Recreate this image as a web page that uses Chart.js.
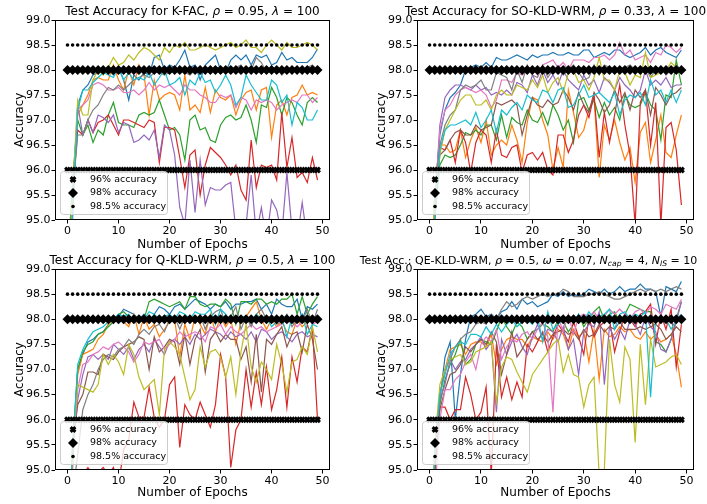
<!DOCTYPE html>
<html>
<head>
<meta charset="utf-8">
<script src="https://cdn.jsdelivr.net/npm/chart.js@4"></script>
<style>
html, body { margin: 0; padding: 0; background: #fff; }
#fig { position: relative; width: 707px; height: 504px; overflow: hidden; }
canvas { position: absolute; }
</style>
</head>
<body>
<div id="fig">
<canvas id="p1" width="354" height="252" style="left:0;top:0"></canvas>
<canvas id="p2" width="353" height="252" style="left:354px;top:0"></canvas>
<canvas id="p3" width="354" height="252" style="left:0;top:252px"></canvas>
<canvas id="p4" width="353" height="252" style="left:354px;top:252px"></canvas>
</div>
<script>
// epochs and tick labels
const epochs = [0,1,2,3,4,5,6,7,8,9,10,11,12,13,14,15,16,17,18,19,20,21,22,23,24,25,26,27,28,29,30,31,32,33,34,35,36,37,38,39,40,41,42,43,44,45,46,47,48,49];
const xTicks = [0, 10, 20, 30, 40, 50];
const yTicks = [95.0, 95.5, 96.0, 96.5, 97.0, 97.5, 98.0, 98.5, 99.0];

// reference levels (legend entries)
const refLevels = [96, 98, 98.5];
const refNames = ['96% accuracy', '98% accuracy', '98.5% accuracy'];

// K-FAC, rho=0.95, lambda=100
const kfacBlue = [93.0,95.5,97.3,97.6,97.7,97.9,97.95,97.95,98.0,97.9,
  98.05,97.8,97.4,97.9,97.8,97.95,97.9,98.25,98.3,98.0,
  98.1,98.05,98.2,98.4,98.05,98.1,97.8,98.1,98.2,98.3,
  98.0,97.95,98.2,98.3,98.2,98.3,98.1,98.3,98.25,98.3,
  98.1,98.15,98.35,98.2,98.25,98.15,98.15,98.15,98.25,98.42];
const kfacOrange = [94.0,95.5,97.1,97.3,97.5,97.8,97.85,97.8,97.8,98.1,
  97.8,97.6,98.0,97.7,98.1,97.9,97.1,97.8,97.4,97.5,
  97.55,97.5,97.2,97.9,97.2,97.3,97.15,97.65,97.15,97.6,
  97.45,97.4,97.5,97.1,97.4,97.55,97.6,97.2,97.6,97.65,
  96.65,97.3,97.4,97.1,97.45,97.5,97.7,97.5,97.55,97.5];
const kfacGreen = [94.0,95.8,97.0,96.7,96.9,96.55,96.8,96.7,97.1,97.35,
  96.95,96.9,96.9,96.85,97.1,97.15,97.1,97.15,97.4,97.1,
  96.8,96.85,96.7,96.2,97.0,97.1,96.8,96.85,96.6,96.55,
  96.9,97.05,97.1,97.0,97.05,97.3,97.0,96.55,97.3,97.25,
  97.65,97.45,97.1,97.45,97.35,97.1,96.9,97.35,97.45,97.35];
const kfacRed = [93.0,95.5,96.8,96.7,97.0,96.75,96.95,97.0,97.1,96.9,
  96.7,97.0,97.0,96.95,96.9,96.85,97.0,96.95,96.15,96.85,
  96.85,96.8,96.25,95.65,96.3,96.4,95.5,96.1,96.45,96.35,
  96.25,96.1,95.9,96.1,95.6,95.4,96.6,95.65,96.1,96.05,
  96.1,95.8,97.15,96.05,96.65,95.85,95.95,95.75,96.25,95.8];
const kfacPurple = [93.0,95.0,97.3,96.7,97.0,96.75,97.1,97.05,96.95,97.1,
  96.75,96.95,96.9,96.55,96.6,96.7,96.6,96.8,96.25,96.9,
  96.8,96.3,95.25,94.9,96.2,95.15,96.2,95.3,95.65,95.6,
  95.6,95.7,95.75,94.8,94.5,94.9,95.9,94.7,95.25,94.6,
  95.4,95.2,94.7,95.95,94.8,94.6,95.35,94.6,94.3,94.5];
const kfacPink = [93.5,95.3,97.2,97.3,97.4,97.7,97.75,97.7,97.6,97.6,
  97.65,97.55,97.55,97.6,97.5,97.6,97.75,97.6,97.7,97.65,
  97.7,97.6,97.5,97.7,97.6,97.6,97.5,97.45,97.35,97.35,
  97.5,97.45,97.5,97.25,97.45,97.4,97.2,97.4,97.35,97.4,
  97.35,97.2,97.3,97.35,97.4,97.35,97.5,97.5,97.35,97.45];
const kfacGray = [93.0,95.5,96.7,96.7,97.0,97.2,97.3,97.5,97.65,97.6,
  97.7,97.6,97.7,97.8,97.85,97.9,97.85,97.95,97.95,97.9,
  97.95,98.0,98.0,97.95,97.9,98.0,97.95,98.05,98.0,98.0,
  97.95,98.05,98.0,98.05,98.1,97.95,98.0,98.25,98.15,97.95,
  98.0,98.05,97.9,98.0,98.05,98.05,98.0,98.05,98.1,98.0];
const kfacOlive = [93.5,95.6,97.4,97.1,97.1,97.8,98.0,97.9,98.05,98.25,
  98.1,98.15,98.3,98.2,98.35,98.45,98.4,98.3,98.2,98.45,
  98.35,98.5,98.45,98.55,98.4,98.4,98.45,98.5,98.45,98.4,
  98.45,98.5,98.55,98.45,98.5,98.6,98.45,98.45,98.35,98.5,
  98.6,98.5,98.4,98.55,98.45,98.45,98.5,98.55,98.5,98.4];
const kfacCyan = [93.0,95.2,97.2,97.6,97.6,97.75,97.85,97.95,97.9,97.85,
  98.05,97.8,97.95,97.8,97.85,97.8,97.95,97.7,97.85,98.0,
  97.7,97.75,97.85,97.5,97.8,97.7,97.95,97.75,97.8,97.55,
  97.7,97.9,97.7,97.3,97.45,97.9,97.7,97.55,97.4,97.4,
  97.8,97.7,97.35,97.5,96.9,97.35,97.25,97.0,97.0,97.2];

// SO-KLD-WRM, rho=0.33, lambda=100
const soBlue = [93.0,95.5,96.7,97.2,97.45,97.55,97.7,98.0,98.05,98.1,
  98.05,98.15,98.05,98.25,98.2,98.2,98.25,98.3,98.25,98.2,
  98.3,98.25,98.3,98.3,98.35,98.3,98.3,98.35,98.3,98.3,
  98.4,98.4,98.25,98.3,98.35,98.3,98.4,98.4,98.3,98.25,
  98.3,98.35,98.45,98.3,98.4,98.45,98.35,98.3,98.25,98.4];
const soOrange = [93.0,95.5,96.5,96.5,96.35,96.4,96.8,96.25,96.6,96.85,
  96.55,97.0,96.3,96.5,96.6,96.5,96.9,96.6,96.15,96.95,
  97.45,97.4,97.0,96.7,96.0,96.45,96.05,97.6,97.15,96.65,
  96.8,97.2,97.45,95.85,96.9,96.6,97.0,96.55,96.2,96.45,
  95.75,96.75,96.95,96.15,96.6,97.1,96.35,96.25,96.7,97.1];
const soGreen = [93.0,95.0,96.1,96.3,96.25,96.3,96.5,96.75,96.7,96.8,
  96.7,96.9,96.9,96.6,97.1,96.65,97.05,96.95,96.9,97.2,
  97.0,96.95,97.15,96.9,97.3,97.1,96.8,97.0,96.55,97.4,
  97.45,97.2,97.4,97.05,97.35,97.1,97.25,97.0,97.5,97.3,
  97.25,97.3,97.55,97.3,97.2,96.6,97.5,97.45,98.2,97.7];
const soRed = [93.0,95.0,96.45,96.4,96.6,96.15,96.8,96.55,95.95,96.55,
  96.8,96.7,96.15,96.8,96.3,96.25,96.45,96.5,95.95,96.3,
  96.35,96.2,96.35,96.0,95.9,96.7,96.7,96.35,96.6,97.1,
  97.3,97.05,97.5,96.25,97.15,96.55,97.1,97.7,96.9,96.3,
  94.9,97.35,97.6,96.5,97.35,94.9,96.85,96.95,96.4,95.3];
const soPurple = [93.0,95.3,96.9,97.45,97.6,97.7,97.7,97.65,97.6,97.7,
  97.6,97.65,97.5,97.55,97.5,97.6,97.5,97.75,97.7,97.55,
  97.9,97.7,98.0,97.75,97.9,97.7,98.0,97.8,97.7,97.6,
  97.9,97.7,97.8,97.55,97.85,97.75,97.6,97.85,97.7,97.6,
  97.45,97.6,98.0,97.7,97.8,97.7,97.85,97.65,97.7,97.7];
const soBrown = [93.0,95.2,96.3,96.4,96.6,96.75,96.8,96.7,96.7,96.9,
  96.8,96.85,96.9,97.35,97.3,97.35,97.4,97.3,96.7,97.1,
  97.45,97.3,97.25,97.4,97.3,97.35,97.6,97.45,97.2,97.55,
  97.3,97.15,97.55,97.4,97.15,97.3,97.6,97.35,97.55,97.2,
  97.6,97.45,97.6,97.1,97.65,97.5,97.3,97.5,97.55,97.65];
const soPink = [93.0,95.3,96.8,97.2,97.3,97.5,97.6,97.65,97.6,97.55,
  97.6,97.5,97.25,97.4,97.8,97.8,97.75,97.95,97.9,98.0,
  98.05,97.9,98.1,98.15,98.2,98.05,98.15,98.0,98.2,98.2,
  98.2,98.15,98.25,98.25,98.3,98.2,98.3,98.55,98.3,98.4,
  98.2,98.25,98.3,98.15,98.35,98.3,98.5,98.45,98.35,98.45];
const soGray = [93.0,95.5,96.5,96.9,97.1,97.2,97.6,97.7,97.65,97.7,
  97.8,97.6,97.6,97.95,97.9,97.85,97.6,98.0,97.75,98.1,
  97.9,97.85,98.1,97.85,98.0,98.05,97.9,98.0,98.1,97.95,
  97.8,97.85,98.1,97.9,98.1,98.05,97.95,98.0,98.05,98.1,
  98.0,97.95,98.05,97.85,98.0,98.05,97.9,98.0,98.1,98.0];
const soOlive = [93.0,95.5,96.3,96.8,97.0,97.2,97.4,97.5,97.5,97.3,
  97.3,97.4,97.2,97.5,97.6,97.5,97.5,97.7,97.65,97.6,
  97.8,97.65,97.9,97.55,97.75,97.85,97.55,97.95,98.0,97.75,
  97.8,97.6,97.85,98.25,97.8,97.8,97.6,98.0,97.95,97.7,
  97.9,97.85,98.35,97.85,97.9,97.95,98.0,98.15,98.05,97.95];
const soCyan = [93.0,95.0,96.4,96.8,96.9,96.9,96.95,97.0,96.9,97.15,
  96.85,97.0,97.2,96.75,97.2,97.1,97.25,97.35,97.2,97.5,
  97.4,97.35,97.6,97.55,97.35,97.6,97.65,97.25,97.3,97.5,
  97.7,97.45,97.5,97.55,97.45,97.35,97.55,97.1,97.4,97.5,
  97.45,97.55,97.3,97.8,97.5,97.6,97.35,97.6,97.35,97.6];

// Q-KLD-WRM, rho=0.5, lambda=100
const qBlue = [93.0,95.3,97.0,97.3,97.55,97.6,97.7,97.75,97.9,98.0,
  98.05,98.2,98.15,98.1,98.0,98.1,97.95,98.1,98.25,98.2,
  98.1,98.25,98.3,98.2,98.3,98.4,98.35,98.3,98.2,98.3,
  98.25,98.35,98.2,98.3,98.3,98.35,98.35,98.4,98.2,98.3,
  98.1,98.4,98.3,98.25,98.25,98.4,98.0,98.25,98.2,98.3];
const qOrange = [93.0,95.0,96.9,97.3,97.35,97.4,97.6,97.7,97.9,98.0,
  98.05,97.95,97.85,98.1,97.7,98.05,97.8,97.9,97.65,97.8,
  97.95,98.0,97.25,97.9,97.6,98.05,97.9,97.7,98.1,97.75,
  98.05,97.85,98.0,97.5,97.95,98.05,98.2,98.35,98.0,97.8,
  98.0,97.85,97.95,97.75,97.7,98.0,97.85,97.95,98.0,98.0];
const qGreen = [93.0,95.5,97.0,97.35,97.5,97.55,97.7,97.75,97.85,97.95,
  98.1,98.15,98.05,98.0,98.05,98.0,98.35,98.4,98.35,98.3,
  98.25,98.3,98.35,98.2,98.45,98.45,98.3,98.25,98.3,98.3,
  98.25,98.4,98.3,97.9,98.35,98.35,98.3,98.4,98.4,98.3,
  98.35,98.3,98.4,98.4,98.5,98.1,98.45,98.1,98.3,98.45];
const qRed = [93.0,94.5,94.6,94.9,95.05,94.9,94.95,95.05,94.9,95.05,
  94.7,95.4,95.6,96.35,96.05,96.05,96.65,96.05,95.85,96.0,
  96.7,96.85,95.45,96.3,96.1,96.0,96.35,96.1,95.85,96.3,
  97.3,96.85,95.05,95.8,96.0,97.0,96.25,96.95,96.3,97.05,
  96.2,96.6,97.25,96.25,97.25,96.75,97.45,97.35,97.85,96.0];
const qPurple = [93.0,95.3,96.4,96.9,97.25,97.3,97.2,97.3,97.2,97.5,
  97.4,97.3,97.45,97.2,97.4,97.5,97.35,97.6,97.45,97.3,
  97.55,97.6,97.5,97.65,97.5,97.7,97.6,97.7,97.8,97.75,
  97.7,97.6,97.75,97.65,97.7,97.6,97.75,97.55,97.8,97.75,
  97.6,97.7,97.75,97.65,97.55,97.7,97.75,97.65,97.7,97.65];
const qBrown = [93.0,95.5,96.3,96.5,96.95,96.95,96.9,97.3,97.25,97.2,
  97.35,97.45,97.5,97.55,97.65,97.6,97.0,97.65,97.35,97.45,
  97.6,97.55,97.1,97.7,97.1,97.6,97.8,96.95,97.6,97.75,
  97.55,97.7,97.6,97.6,97.2,97.45,96.75,97.7,96.55,97.6,
  97.5,97.7,97.85,97.45,97.7,97.75,97.35,97.9,97.6,97.0];
const qPink = [93.0,95.3,96.6,97.1,97.15,97.3,97.35,97.45,97.4,97.5,
  97.55,97.45,97.35,97.15,97.3,97.55,97.5,97.55,97.6,97.4,
  97.5,97.6,97.75,97.65,97.7,97.75,97.7,97.55,97.85,97.8,
  97.9,97.7,97.85,97.75,97.7,97.8,97.9,97.8,97.85,97.75,
  97.8,97.85,97.9,98.0,97.95,97.85,97.95,98.05,97.9,97.95];
const qGray = [93.0,94.5,95.3,96.2,96.5,96.7,97.0,97.2,97.3,97.25,
  97.4,97.45,97.6,97.5,97.7,97.8,97.7,97.85,97.9,97.75,
  98.0,98.05,97.8,98.05,98.0,97.95,98.1,97.8,98.05,98.15,
  98.2,97.9,98.05,98.25,97.8,98.05,97.85,98.1,98.2,98.0,
  98.05,97.9,97.95,98.1,97.85,98.0,97.95,98.2,97.9,98.2];
const qOlive = [93.0,95.5,96.7,96.65,96.6,96.55,96.7,97.3,97.1,97.3,
  97.15,96.9,97.5,97.3,96.85,96.6,96.7,96.8,96.1,97.4,
  97.55,97.45,97.3,96.85,96.4,96.6,97.45,97.05,97.35,97.4,
  97.25,96.85,97.25,96.5,97.35,97.9,97.05,96.75,97.15,97.0,
  96.8,97.5,97.1,96.55,97.15,97.2,97.45,97.3,97.85,97.35];
const qCyan = [93.0,95.4,97.1,97.4,97.6,97.75,97.8,97.85,97.95,98.0,
  98.1,98.05,98.1,97.95,98.05,98.0,98.15,98.1,98.0,98.05,
  98.1,98.0,98.15,98.1,98.0,98.15,98.1,98.1,98.2,97.9,
  98.2,98.1,97.95,98.0,98.05,98.05,97.95,98.1,98.0,98.05,
  97.85,97.95,98.05,97.65,98.05,97.95,98.1,97.7,97.9,97.85];

// QE-KLD-WRM, rho=0.5, omega=0.07, N_cap=4, N_IS=10
const qeBlue = [93.0,95.0,96.4,97.25,97.55,96.0,96.9,97.6,98.05,98.1,
  98.2,98.05,98.1,98.0,98.15,98.2,98.35,98.2,98.4,98.3,
  98.35,98.25,98.3,98.35,98.5,98.45,98.55,98.45,98.5,98.45,
  98.5,98.6,98.55,98.5,98.6,98.5,98.55,98.65,98.55,98.6,
  98.6,98.7,98.6,98.6,98.55,98.05,98.65,98.6,98.55,98.75];
const qeOrange = [93.0,95.0,96.5,97.0,97.4,97.45,97.5,97.3,97.5,97.55,
  97.55,97.45,97.7,97.1,97.4,97.6,97.65,97.6,97.6,97.45,
  97.65,97.6,97.55,97.75,97.6,97.8,97.7,97.4,97.8,97.65,
  97.75,97.15,97.8,96.8,97.8,97.65,97.7,97.85,97.75,97.8,
  97.65,97.6,97.75,97.6,97.7,97.55,97.6,97.7,97.3,96.65];
const qeGreen = [93.0,95.0,96.3,96.8,97.1,97.3,97.6,97.1,97.2,97.5,
  97.6,97.55,97.5,97.75,98.05,97.85,97.7,97.95,97.85,97.6,
  97.75,97.8,97.9,97.85,97.75,98.0,97.95,97.75,97.9,98.1,
  97.85,98.0,98.15,98.25,98.0,98.1,98.15,97.95,98.1,98.3,
  98.25,98.2,98.15,98.15,97.55,97.5,97.35,97.6,98.0,98.35];
const qeRed = [93.0,95.0,96.25,96.25,96.0,96.2,96.2,96.85,96.5,96.0,
  96.15,96.65,94.9,97.5,96.45,96.85,96.4,96.75,96.45,97.5,
  97.35,97.55,97.75,97.35,97.65,97.9,97.75,97.55,97.95,97.65,
  97.3,98.05,97.65,97.85,97.95,98.0,97.35,97.75,98.1,98.0,
  97.85,98.1,98.15,98.3,97.5,98.1,97.8,98.2,97.05,97.9];
const qePurple = [93.0,95.0,96.4,96.7,97.2,97.0,97.15,97.2,97.4,97.5,
  97.65,97.4,97.55,96.15,97.6,97.3,97.55,97.7,97.45,97.3,
  97.65,97.9,97.6,97.8,97.75,97.55,97.85,97.4,97.6,96.9,
  97.75,97.9,97.85,98.15,96.7,97.85,97.6,97.8,97.6,98.0,
  97.9,97.7,98.05,97.85,97.75,97.4,97.35,97.6,97.95,98.35];
const qeBrown = [93.0,95.0,96.2,96.6,96.9,96.95,97.1,97.45,97.35,97.5,
  97.6,97.5,97.75,97.55,96.9,97.3,97.75,97.25,97.4,97.6,
  97.75,97.6,97.7,97.55,97.7,97.75,97.8,97.7,97.75,97.6,
  97.8,97.65,97.7,97.9,97.75,97.85,97.8,97.95,97.8,97.8,
  97.8,97.85,97.8,97.85,97.9,97.8,97.6,97.7,97.85,97.75];
const qePink = [93.0,94.5,96.0,96.6,96.6,96.8,96.9,97.15,97.3,97.0,
  97.5,97.65,97.55,97.8,97.2,97.45,97.6,97.55,97.7,97.75,
  97.6,97.8,97.95,97.65,96.15,98.05,97.75,98.1,97.7,98.05,
  98.1,98.05,98.15,98.0,98.05,98.2,98.1,98.2,98.1,98.0,
  98.15,98.2,98.1,98.25,98.2,98.1,98.3,98.25,98.2,98.4];
const qeGray = [93.0,95.3,96.5,97.0,97.2,97.45,97.6,97.7,97.75,97.9,
  97.95,97.9,98.1,98.0,98.2,98.35,98.25,98.3,98.4,98.45,
  98.4,98.45,98.5,98.45,98.5,98.5,98.6,98.55,98.45,98.45,
  98.45,98.5,98.5,98.55,98.5,98.45,98.4,98.4,98.45,98.5,
  98.55,98.6,98.55,98.6,98.55,98.6,98.55,98.6,98.65,98.6];
const qeOlive = [93.0,95.5,96.7,97.0,97.2,97.25,97.3,97.1,97.15,97.35,
  97.4,97.45,97.55,96.35,97.05,97.25,97.2,96.95,96.75,96.55,
  96.9,97.05,97.2,97.35,97.5,97.6,96.95,97.3,96.9,96.85,
  96.25,96.7,96.85,94.9,95.0,97.6,96.7,96.35,97.45,97.2,
  95.55,97.5,96.3,97.6,97.05,97.1,97.15,97.25,97.3,97.1];
const qeCyan = [93.0,95.3,96.5,96.9,97.3,97.45,97.55,97.5,97.7,97.7,
  97.65,97.85,97.7,97.9,97.75,97.9,98.0,97.85,97.95,98.0,
  97.9,98.05,97.55,98.15,97.8,97.9,98.0,98.05,97.95,98.1,
  97.95,98.15,98.0,98.05,98.1,98.2,97.8,98.1,98.15,98.0,
  98.1,98.05,98.15,96.45,98.05,97.95,98.0,97.8,98.0,98.1];

const C = {
    blue: '#1f77b4', orange: '#ff7f0e', green: '#2ca02c', red: '#d62728', purple: '#9467bd',
    brown: '#8c564b', pink: '#e377c2', gray: '#7f7f7f', olive: '#bcbd22', cyan: '#17becf',
};

const FONT = '"DejaVu Sans", "Liberation Sans", sans-serif';

// marker looks for the three reference lines
const refStyles = [
    { pointStyle: 'crossRot', radius: 3.4, borderWidth: 3 },
    { pointStyle: 'rectRot', radius: 5, borderWidth: 0 },
    { pointStyle: 'circle', radius: 1.8, borderWidth: 0 },
];

// draws the title with italic math parts and subscripts
const mathTitle = {
    id: 'mathTitle',
    afterDraw(chart, args, opts) {
        const { ctx, chartArea } = chart;
        const s = opts.size;
        const fontOf = (k) => {
            if (k === 'i') return 'italic ' + s + 'px ' + FONT;
            if (k === 's') return 'italic ' + (s * 0.7) + 'px ' + FONT;
            return s + 'px ' + FONT;
        };
        ctx.save();
        ctx.fillStyle = '#000';
        ctx.textBaseline = 'alphabetic';
        ctx.textAlign = 'left';
        let total = 0;
        opts.parts.forEach((p) => { ctx.font = fontOf(p[1]); total += ctx.measureText(p[0]).width; });
        let x = (chartArea.left + chartArea.right) / 2 - total / 2 + (opts.dx || 0);
        opts.parts.forEach((p) => {
            ctx.font = fontOf(p[1]);
            ctx.fillText(p[0], x, opts.y + (p[1] === 's' ? s * 0.22 : 0));
            x += ctx.measureText(p[0]).width;
        });
        ctx.restore();
    },
};

// axes frame + legend box for the reference lines
const frameAndLegend = {
    id: 'frameAndLegend',
    afterDraw(chart) {
        const { ctx, chartArea: a } = chart;
        ctx.save();
        ctx.strokeStyle = '#000';
        ctx.lineWidth = 1;
        ctx.strokeRect(Math.round(a.left) + 0.5, Math.round(a.top) + 0.5,
            Math.round(a.right - a.left) - 1, Math.round(a.bottom - a.top) - 1);

        const bx = Math.round(a.left) + 5.5, by = Math.round(a.bottom) - 48.5;
        ctx.beginPath();
        ctx.roundRect(bx, by, 107, 43, 3);
        ctx.fillStyle = 'rgba(255,255,255,0.8)';
        ctx.fill();
        ctx.strokeStyle = '#cccccc';
        ctx.stroke();
        refNames.forEach((name, i) => {
            const y = by + 8 + i * 13.5;
            const st = refStyles[i];
            ctx.fillStyle = '#000';
            ctx.strokeStyle = '#000';
            ctx.lineWidth = st.borderWidth;
            Chart.helpers.drawPoint(ctx, { pointStyle: st.pointStyle, radius: st.radius, rotation: 0, borderWidth: st.borderWidth }, a.left + 18, y);
            ctx.font = '9.5px ' + FONT;
            ctx.textBaseline = 'middle';
            ctx.fillText(name, a.left + 35, y);
        });
        ctx.restore();
    },
};

function makePanel(id, series, titleParts, titleSize, titleY, titleDx, box) {
    const canvas = document.getElementById(id);
    const W = canvas.width, H = canvas.height;

    // first dataset is drawn on top in Chart.js, so reference lines go first
    const datasets = [];
    [2, 1, 0].forEach((i) => {
        datasets.push({
            data: epochs.map((e) => ({ x: e, y: refLevels[i] })),
            showLine: false,
            pointStyle: refStyles[i].pointStyle,
            pointRadius: refStyles[i].radius,
            pointBorderWidth: refStyles[i].borderWidth,
            pointBackgroundColor: '#000',
            pointBorderColor: '#000',
            pointHoverRadius: 0,
        });
    });
    series.slice().reverse().forEach((s) => {
        datasets.push({
            data: epochs.map((e, i) => ({ x: e, y: s.values[i] })),
            borderColor: s.color,
            borderWidth: 1.2,
            pointRadius: 0,
            tension: 0,
            fill: false,
        });
    });

    const tickFont = { family: FONT, size: 11 };
    const labelFont = { family: FONT, size: 12 };

    new Chart(canvas.getContext('2d'), {
        type: 'line',
        data: { datasets: datasets },
        plugins: [mathTitle, frameAndLegend],
        options: {
            responsive: false,
            animation: false,
            events: [],
            layout: { padding: { left: box.left - 50, right: W - box.right, top: box.top, bottom: 0 } },
            plugins: {
                legend: { display: false },
                tooltip: { enabled: false },
                mathTitle: { parts: titleParts, size: titleSize, y: titleY, dx: titleDx },
            },
            scales: {
                x: {
                    type: 'linear',
                    min: -2.45,
                    max: 51.45,
                    afterBuildTicks: (sc) => { sc.ticks = xTicks.map((v) => ({ value: v })); },
                    afterFit: (sc) => { sc.height = H - box.bottom; },
                    grid: { display: true, drawOnChartArea: false, drawTicks: true, tickLength: 3.5, color: '#000' },
                    border: { display: false },
                    ticks: { color: '#000', font: tickFont, padding: 1, maxRotation: 0, autoSkip: false },
                    title: { display: true, text: 'Number of Epochs', color: '#000', font: labelFont, padding: { top: 0, bottom: box.xTitlePad } },
                },
                y: {
                    type: 'linear',
                    min: 95,
                    max: 99,
                    afterBuildTicks: (sc) => { sc.ticks = yTicks.map((v) => ({ value: v })); },
                    afterFit: (sc) => { sc.width = 50; },
                    grid: { display: true, drawOnChartArea: false, drawTicks: true, tickLength: 3.5, color: '#000' },
                    border: { display: false },
                    ticks: { color: '#000', font: tickFont, padding: 1, callback: (v) => v.toFixed(1) },
                    title: { display: true, text: 'Accuracy', color: '#000', font: labelFont, padding: { top: 8, bottom: 0 } },
                },
            },
        },
    });
}

makePanel('p1', [
    { color: C.blue, values: kfacBlue }, { color: C.orange, values: kfacOrange },
    { color: C.green, values: kfacGreen }, { color: C.red, values: kfacRed },
    { color: C.purple, values: kfacPurple }, { color: C.pink, values: kfacPink },
    { color: C.gray, values: kfacGray }, { color: C.olive, values: kfacOlive },
    { color: C.cyan, values: kfacCyan },
], [['Test Accuracy for K-FAC, ', 'n'], ['ρ', 'i'], [' = 0.95, ', 'n'], ['λ', 'i'], [' = 100', 'n']],
12, 15, 0, { left: 55, right: 330, top: 20, bottom: 220, xTitlePad: 0 });

makePanel('p2', [
    { color: C.blue, values: soBlue }, { color: C.orange, values: soOrange },
    { color: C.green, values: soGreen }, { color: C.red, values: soRed },
    { color: C.purple, values: soPurple }, { color: C.brown, values: soBrown },
    { color: C.pink, values: soPink }, { color: C.gray, values: soGray },
    { color: C.olive, values: soOlive }, { color: C.cyan, values: soCyan },
], [['Test Accuracy for SO-KLD-WRM, ', 'n'], ['ρ', 'i'], [' = 0.33, ', 'n'], ['λ', 'i'], [' = 100', 'n']],
12, 15, 0, { left: 63, right: 340, top: 20, bottom: 220, xTitlePad: 0 });

makePanel('p3', [
    { color: C.blue, values: qBlue }, { color: C.orange, values: qOrange },
    { color: C.green, values: qGreen }, { color: C.red, values: qRed },
    { color: C.purple, values: qPurple }, { color: C.brown, values: qBrown },
    { color: C.pink, values: qPink }, { color: C.gray, values: qGray },
    { color: C.olive, values: qOlive }, { color: C.cyan, values: qCyan },
], [['Test Accuracy for Q-KLD-WRM, ', 'n'], ['ρ', 'i'], [' = 0.5, ', 'n'], ['λ', 'i'], [' = 100', 'n']],
12, 12, 0, { left: 55, right: 330, top: 17, bottom: 218, xTitlePad: 4 });

makePanel('p4', [
    { color: C.blue, values: qeBlue }, { color: C.orange, values: qeOrange },
    { color: C.green, values: qeGreen }, { color: C.red, values: qeRed },
    { color: C.purple, values: qePurple }, { color: C.brown, values: qeBrown },
    { color: C.pink, values: qePink }, { color: C.gray, values: qeGray },
    { color: C.olive, values: qeOlive }, { color: C.cyan, values: qeCyan },
], [['Test Acc.: QE-KLD-WRM, ', 'n'], ['ρ', 'i'], [' = 0.5, ', 'n'], ['ω', 'i'], [' = 0.07, ', 'n'],
    ['N', 'i'], ['cap', 's'], [' = 4, ', 'n'], ['N', 'i'], ['IS', 's'], [' = 10', 'n']],
11, 12, -27, { left: 63, right: 340, top: 17, bottom: 218, xTitlePad: 4 });
</script>
</body>
</html>
